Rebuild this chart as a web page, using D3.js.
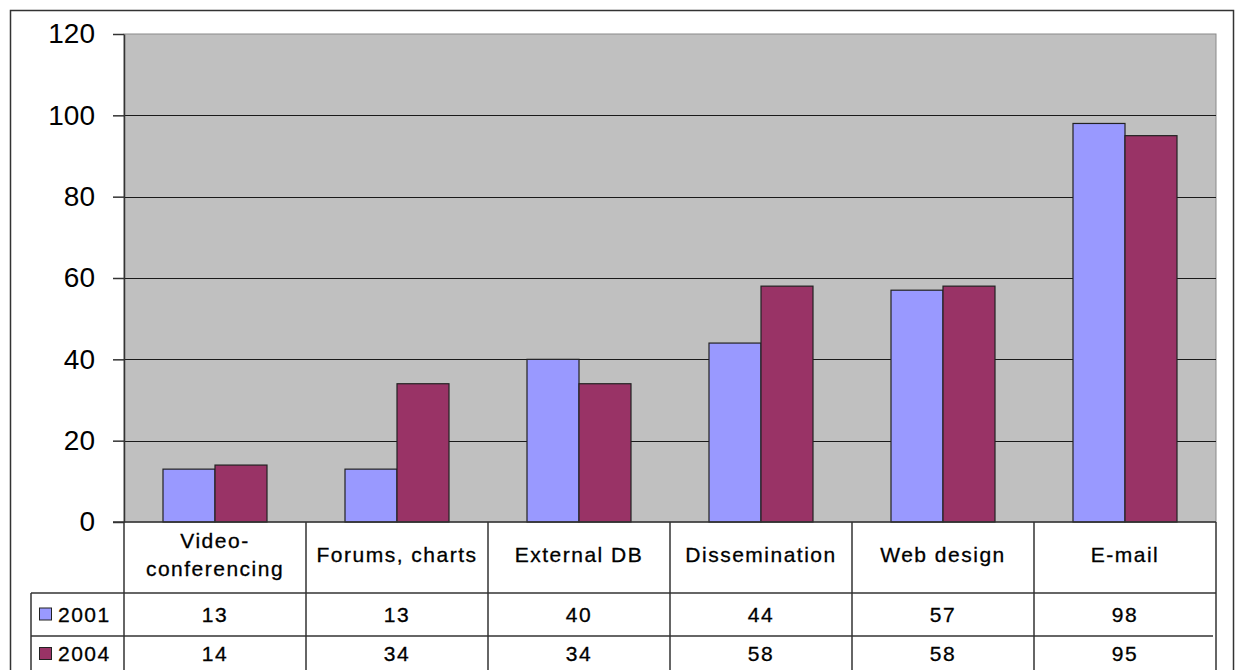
<!DOCTYPE html>
<html>
<head>
<meta charset="utf-8">
<script src="https://cdn.jsdelivr.net/npm/d3@7"></script>
<style>
  html, body { margin: 0; padding: 0; background: #fff; }
  svg { display: block; font-family: "Liberation Sans", Arial, sans-serif; }
</style>
</head>
<body>
<svg id="chart" width="1236" height="670"></svg>
<script>
// Category labels (multi-line labels split on "\n")
const categories = ["Video-\nconferencing", "Forums, charts", "External DB", "Dissemination", "Web design", "E-mail"];
const seriesNames = ["2001", "2004"];
const values2001 = [13, 13, 40, 44, 57, 98];
const values2004 = [14, 34, 34, 58, 58, 95];
const yTicks = [0, 20, 40, 60, 80, 100, 120];
const colors = ["#9999FF", "#993366"];

const series = [values2001, values2004];

const svg = d3.select("#chart");
const W = 1236, H = 670;

// Plot geometry
const plot = { left: 124, right: 1216, top: 34, bottom: 522 };
const headerBottom = 593;
const row1Bottom = 636;
const row2Bottom = 678;
const legendLeft = 31;

const x0 = d3.scaleBand().domain(d3.range(categories.length))
  .range([plot.left, plot.right]).paddingInner(0).paddingOuter(0);
const x1 = d3.scaleBand().domain(d3.range(seriesNames.length))
  .range([0, x0.bandwidth()]).paddingInner(0).paddingOuter(0.75);
const y = d3.scaleLinear().domain([0, 120]).range([plot.bottom, plot.top]);

// Outer chart border
svg.append("rect")
  .attr("x", 10.5).attr("y", 10.5)
  .attr("width", 1223).attr("height", H + 20)
  .attr("fill", "#fff").attr("stroke", "#333").attr("stroke-width", 1.5);

// Plot background
svg.append("rect")
  .attr("x", plot.left).attr("y", plot.top)
  .attr("width", plot.right - plot.left).attr("height", plot.bottom - plot.top)
  .attr("fill", "#C0C0C0").attr("stroke", "#8a8a8a").attr("stroke-width", 1);

// Gridlines
svg.append("g")
  .selectAll("line")
  .data(yTicks.filter(t => t > 0 && t < 120))
  .join("line")
  .attr("x1", plot.left).attr("x2", plot.right)
  .attr("y1", d => Math.round(y(d)) + 0.5).attr("y2", d => Math.round(y(d)) + 0.5)
  .attr("stroke", "#1a1a1a").attr("stroke-width", 1.2);

// Bars
const groups = svg.append("g")
  .selectAll("g")
  .data(categories.map((c, i) => i))
  .join("g")
  .attr("transform", i => `translate(${x0(i)},0)`);

groups.selectAll("rect")
  .data(i => series.map((s, k) => ({ k, v: s[i] })))
  .join("rect")
  .attr("x", d => x1(d.k))
  .attr("y", d => y(d.v))
  .attr("width", x1.bandwidth())
  .attr("height", d => y(0) - y(d.v))
  .attr("fill", d => colors[d.k])
  .attr("stroke", "#222")
  .attr("stroke-width", 1.2);

// Y axis
const yAxis = d3.axisLeft(y).tickValues(yTicks).tickSize(11).tickPadding(18).tickSizeOuter(0);
const gy = svg.append("g").attr("transform", `translate(${plot.left},0)`).call(yAxis);
gy.select(".domain").attr("stroke", "#333").attr("stroke-width", 1.5);
gy.selectAll(".tick line").attr("stroke", "#333").attr("stroke-width", 1.5);
gy.selectAll(".tick text")
  .attr("font-size", 28)
  .attr("font-family", "Liberation Sans, Arial, sans-serif")
  .attr("fill", "#000");

// Data table
const table = svg.append("g").attr("stroke", "#333").attr("stroke-width", 1.5).attr("fill", "none");
// horizontal lines
table.append("line").attr("x1", plot.left - 11).attr("x2", plot.right).attr("y1", plot.bottom).attr("y2", plot.bottom);
table.append("line").attr("x1", legendLeft).attr("x2", plot.right).attr("y1", headerBottom).attr("y2", headerBottom);
table.append("line").attr("x1", legendLeft).attr("x2", plot.right - 3).attr("y1", row1Bottom).attr("y2", row1Bottom);
// vertical lines
table.append("line").attr("x1", legendLeft).attr("x2", legendLeft).attr("y1", headerBottom).attr("y2", row2Bottom);
const edges = d3.range(categories.length).map(i => x0(i)).concat([plot.right]);
table.selectAll(".vline").data(edges).join("line")
  .attr("x1", d => d).attr("x2", d => d)
  .attr("y1", plot.bottom).attr("y2", row2Bottom);

const textStyle = sel => sel
  .attr("font-size", 21)
  .attr("letter-spacing", "1.5px")
  .attr("fill", "#000")
  .attr("stroke", "#000")
  .attr("stroke-width", 0.3)
  .attr("text-anchor", "middle");

// Category headers
const headers = svg.append("g").selectAll("text")
  .data(categories.map((c, i) => ({ lines: c.split("\n"), i })))
  .join("text")
  .call(textStyle)
  .attr("x", d => x0(d.i) + x0.bandwidth() / 2)
  .attr("y", d => (plot.bottom + headerBottom) / 2 + 4 - (d.lines.length - 1) * 14)
  .attr("dy", "0.35em");
headers.selectAll("tspan")
  .data(d => d.lines.map(l => ({ l, x: x0(d.i) + x0.bandwidth() / 2 })))
  .join("tspan")
  .attr("x", d => d.x)
  .attr("dy", (d, j) => j === 0 ? 0 : 28)
  .text(d => d.l);

// Value rows
const rowCenters = [(headerBottom + row1Bottom) / 2, (row1Bottom + 670) / 2 + 1];
series.forEach((s, k) => {
  svg.append("g").selectAll("text")
    .data(s)
    .join("text")
    .call(textStyle)
    .attr("x", (d, i) => x0(i) + x0.bandwidth() / 2)
    .attr("y", rowCenters[k])
    .attr("dy", "0.35em")
    .text(d => d);

  // Legend key and label
  svg.append("rect")
    .attr("x", 39.5).attr("y", rowCenters[k] - 6.5)
    .attr("width", 12).attr("height", 12)
    .attr("fill", colors[k]).attr("stroke", "#222").attr("stroke-width", 1);
  svg.append("text")
    .attr("x", 58).attr("y", rowCenters[k]).attr("dy", "0.35em")
    .attr("font-size", 21).attr("letter-spacing", "1.5px").attr("fill", "#000")
    .attr("stroke", "#000").attr("stroke-width", 0.3)
    .text(seriesNames[k]);
});
</script>
</body>
</html>
